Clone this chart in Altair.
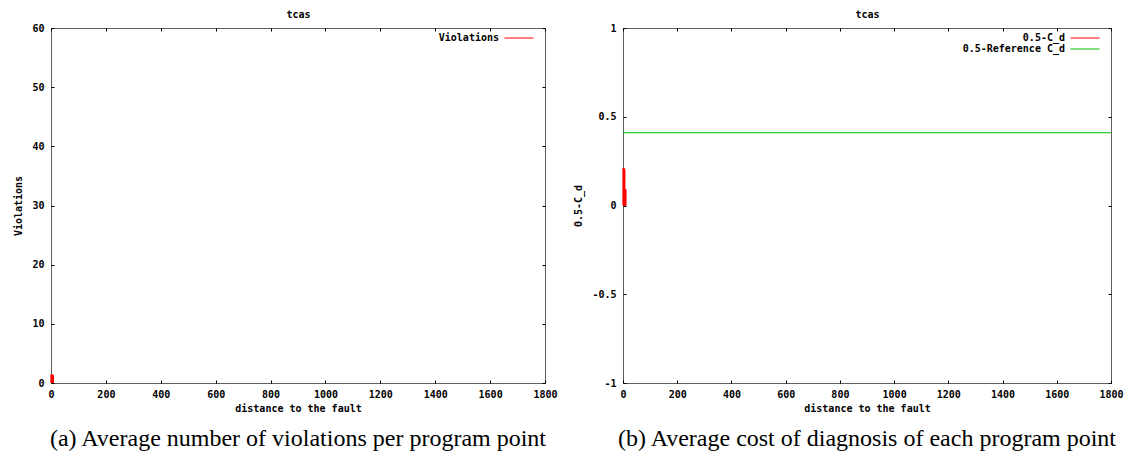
import altair as alt
import pandas as pd

# ---------------- data ----------------
x_ticks = [0, 200, 400, 600, 800, 1000, 1200, 1400, 1600, 1800]

# (a) violations per program point (impulses near the fault)
a_dist = [0, 1, 2, 3, 4, 5, 6, 7, 8, 9]
a_viol = [1.5, 1.4, 1.4, 1.5, 1.4, 1.3, 1.4, 1.3, 1.4, 1.3]
a_names = ["Violations"]
a_colors = ["#ff0000"]

# (b) 0.5 - C_d per program point
b_dist = [0, 1, 2, 3, 4, 5, 6, 7, 8, 9, 10, 11, 12]
b_cd = [0.21, 0.21, 0.21, 0.20, 0.21, 0.20, 0.21, 0.20, 0.09, 0.09, 0.09, 0.09, 0.0]
ref_dist = [0, 1800]
ref_cd = [0.41, 0.41]
b_names = ["0.5-C_d", "0.5-Reference C_d"]
b_colors = ["#ff0000", "#00c000"]

captions = ["(a) Average number of violations per program point",
            "(b) Average cost of diagnosis of each program point"]

# ---------------- style ----------------
MONO = "DejaVu Sans Mono"
SERIF = "Liberation Serif"
H = 355
W_A = 494
W_B = 488
SYM_SIZE = 121            # row height ~12 px
SYM_PATH = "M-2.64,0H2.64"  # ~29 px long key sample


def make_panel(imp_df, line_df, names, colors, ydomain, yvalues, ytitle, W, caption):
    xscale = alt.Scale(domain=[0, 1800], nice=False, zero=False)
    yscale = alt.Scale(domain=ydomain, nice=False, zero=False)
    xaxis = alt.Axis(values=x_ticks, title="distance to the fault", ticks=False,
                     domain=False, grid=True, gridDash=[3, H - 6], gridColor="black",
                     gridOpacity=1, gridWidth=1, labelPadding=6, titlePadding=4,
                     labelFlush=False, format="d", orient="bottom")
    top_axis = alt.Axis(orient="top", title="tcas", labels=False, ticks=False,
                        domain=False, grid=False, titlePadding=9)
    yaxis = alt.Axis(values=yvalues, title=ytitle, ticks=False, domain=False,
                     grid=True, gridDash=[3, W - 6], gridColor="black", gridOpacity=1,
                     gridWidth=1, labelPadding=7, titlePadding=8,
                     labelExpr="datum.value < 0 ? '-' + format(-datum.value, '~g') : format(datum.value, '~g')")
    legend = alt.Legend(orient="none", legendX=W - 32, legendY=4, title=None,
                        symbolType=SYM_PATH, symbolSize=SYM_SIZE, symbolStrokeWidth=1,
                        labelAlign="right", labelOffset={"expr": "-26"},
                        labelFont=MONO, labelFontWeight="bold",
                        labelFontSize=10, labelColor="black",
                        rowPadding=0, padding=0)
    color = alt.Color("series:N", scale=alt.Scale(domain=names, range=colors),
                      legend=legend)

    imp = alt.Chart(imp_df).mark_rule(strokeWidth=1).encode(
        x=alt.X("dist:Q", scale=xscale, axis=xaxis),
        y=alt.Y("val:Q", scale=yscale, axis=yaxis),
        y2=alt.Y2("base:Q"),
        color=color,
    )
    top = alt.Chart(imp_df).mark_rule(opacity=0).encode(
        x=alt.X("dist:Q", scale=xscale, axis=top_axis),
        y=alt.Y("val:Q", scale=yscale),
    )
    layers = [imp, top]
    if line_df is not None:
        ln = alt.Chart(line_df).mark_line(strokeWidth=1).encode(
            x=alt.X("dist:Q", scale=xscale, axis=None),
            y=alt.Y("val:Q", scale=yscale),
            color=color,
        )
        layers.append(ln)
    lay = alt.layer(*layers).resolve_axis(x="independent").properties(
        width=W, height=H,
        title=alt.TitleParams(caption, orient="bottom", font=SERIF, fontSize=24,
                              fontWeight="normal", color="black", anchor="middle",
                              offset=14),
    )
    return lay


a_df = pd.DataFrame({"dist": a_dist, "val": a_viol, "base": [0] * len(a_dist),
                     "series": [a_names[0]] * len(a_dist)})
b_df = pd.DataFrame({"dist": b_dist, "val": b_cd, "base": [0] * len(b_dist),
                     "series": [b_names[0]] * len(b_dist)})
r_df = pd.DataFrame({"dist": ref_dist, "val": ref_cd,
                     "series": [b_names[1]] * len(ref_dist)})

panel_a = make_panel(a_df, None, a_names, a_colors, [0, 60],
                     [0, 10, 20, 30, 40, 50, 60], "Violations", W_A, captions[0])
panel_b = make_panel(b_df, r_df, b_names, b_colors, [-1, 1],
                     [-1, -0.5, 0, 0.5, 1], "0.5-C_d", W_B, captions[1])

chart = alt.hconcat(panel_a, panel_b, spacing=15).resolve_scale(color="independent").properties(
    padding={"left": 5, "top": 0, "right": 0, "bottom": 0}
).configure_view(stroke="#606060", strokeWidth=1).configure_axis(
    labelFont=MONO, labelFontWeight="bold", labelFontSize=10, labelColor="black",
    titleFont=MONO, titleFontWeight="bold", titleFontSize=10, titleColor="black",
)

chart.save("out.html", embed_options={"renderer": "svg", "actions": False})
